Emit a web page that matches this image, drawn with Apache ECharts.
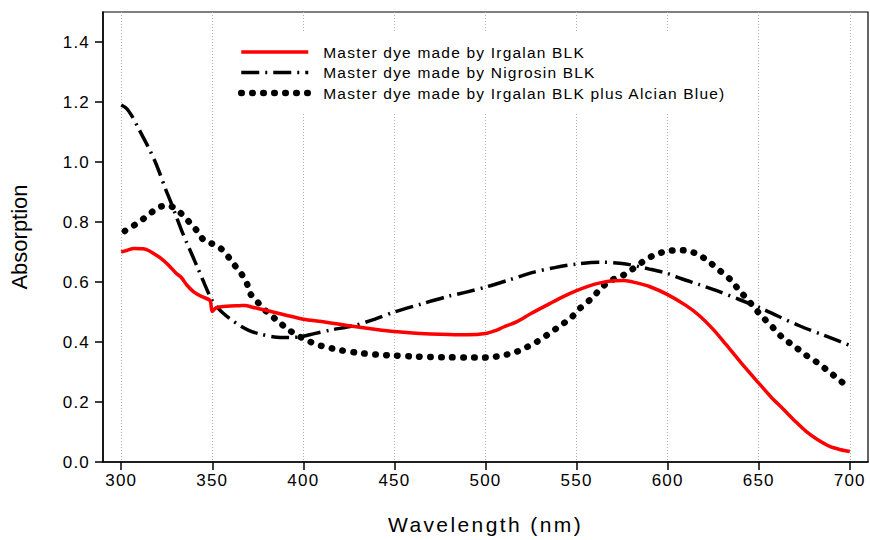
<!DOCTYPE html>
<html><head><meta charset="utf-8">
<script src="https://cdn.jsdelivr.net/npm/echarts@6/dist/echarts.min.js"></script>
<style>
html,body{margin:0;padding:0;background:#fff;}
#c{width:870px;height:540px;}
#c svg text{letter-spacing:1.2px;}
#c svg text[style*="21px"]{letter-spacing:2.4px;}
#c svg text[style*="22px"]{letter-spacing:0px;}
</style>
</head><body>
<div id="c"></div>
<script>
// ---- data ----
const seriesNames = [
  'Master dye made by Irgalan BLK',
  'Master dye made by Nigrosin BLK',
  'Master dye made by Irgalan BLK plus Alcian Blue)'
];
const irgalanWl = [300,303,307,312,315,318,322,326,330,333,336,340,344,348,349,350,352,356,360,365,368,372,380,390,400,410,420,430,440,450,460,470,480,490,500,505,510,517,525,535,543,550,557,563,570,576,583,590,600,610,617,625,632,640,650,657,663,670,676,682,689,695,700];
const irgalanAbs = [0.700,0.705,0.712,0.711,0.705,0.694,0.678,0.656,0.630,0.615,0.590,0.566,0.552,0.542,0.535,0.502,0.514,0.518,0.520,0.521,0.522,0.516,0.505,0.490,0.476,0.468,0.459,0.450,0.442,0.435,0.430,0.427,0.425,0.424,0.428,0.437,0.450,0.467,0.495,0.527,0.552,0.571,0.587,0.597,0.604,0.605,0.597,0.585,0.558,0.522,0.490,0.442,0.392,0.333,0.263,0.215,0.179,0.136,0.102,0.076,0.052,0.041,0.035];

const nigrosinWl = [300,303,306,309,312,315,318,321,324,327,330,333,336,339,342,345,348,350,353,356,360,365,370,376,384,392,398,406,415,428,440,450,465,480,490,500,513,526,538,550,563,577,590,600,608,617,627,640,650,661,672,686,700];
const nigrosinAbs = [1.190,1.178,1.152,1.118,1.083,1.048,1.010,0.965,0.915,0.870,0.822,0.774,0.731,0.689,0.647,0.604,0.562,0.538,0.514,0.496,0.476,0.455,0.439,0.427,0.417,0.415,0.417,0.428,0.440,0.455,0.478,0.500,0.527,0.553,0.567,0.583,0.607,0.632,0.648,0.660,0.666,0.660,0.643,0.628,0.610,0.592,0.571,0.540,0.516,0.485,0.455,0.422,0.389];

const alcianWl = [302,306,310,314,318,322,326,330,334,338,342,345,349,354,358,362,366,369,371,375,380,386,392,398,404,410,420,430,440,450,460,470,480,490,497,503,510,516,522,528,534,540,547,552,558,563,568,574,580,586,592,599,605,611,617,623,629,635,639,644,648,653,658,663,670,676,682,688,694,700];
const alcianAbs = [0.770,0.785,0.800,0.820,0.838,0.852,0.855,0.843,0.822,0.795,0.768,0.742,0.730,0.715,0.690,0.658,0.627,0.595,0.560,0.532,0.500,0.470,0.440,0.418,0.400,0.387,0.373,0.364,0.358,0.355,0.352,0.350,0.349,0.348,0.348,0.349,0.356,0.365,0.381,0.400,0.424,0.450,0.481,0.513,0.544,0.576,0.603,0.617,0.640,0.666,0.688,0.702,0.706,0.704,0.691,0.666,0.636,0.605,0.574,0.541,0.511,0.478,0.447,0.415,0.384,0.356,0.332,0.304,0.275,0.245];

const xTicks = [300,350,400,450,500,550,600,650,700];
const yTicks = [0,0.2,0.4,0.6,0.8,1.0,1.2,1.4];
const xTitle = 'Wavelength (nm)';
const yTitle = 'Absorption';

// ---- chart ----
const zip = (a, b) => a.map((v, i) => [v, b[i]]);
const chart = echarts.init(document.getElementById('c'), null, {renderer: 'svg'});
const font = 'Liberation Sans, Arial, Helvetica, sans-serif';

const styles = [
  {color: '#ff0000', width: 3.5, type: 'solid', cap: 'butt'},
  {color: '#000000', width: 3.5, type: [18, 6, 2, 6], cap: 'butt'},
  {color: '#000000', width: 6.5, type: [0.5, 10.5], cap: 'round'}
];
const datas = [zip(irgalanWl, irgalanAbs), zip(nigrosinWl, nigrosinAbs), zip(alcianWl, alcianAbs)];

chart.setOption({
  animation: false,
  backgroundColor: '#fff',
  grid: {left: 102, right: 2, top: 12, bottom: 76, show: true, borderColor: '#000', borderWidth: 1.2, backgroundColor: 'transparent'},
  legend: {
    left: 230, top: 31,
    orient: 'vertical',
    itemWidth: 67, itemHeight: 14, itemGap: 4.5,
    padding: [13, 70, 13, 8],
    backgroundColor: '#fff',
    textStyle: {fontFamily: font, fontSize: 15.5, color: '#000', padding: [0, 0, 0, 10]},
    data: seriesNames.map((n, i) => ({
      name: n,
      itemStyle: {opacity: 0, color: 'rgba(0,0,0,0)', borderWidth: 0},
      lineStyle: {width: styles[i].width, type: styles[i].type, cap: styles[i].cap, color: styles[i].color}
    }))
  },
  xAxis: {
    type: 'value', min: 290, max: 710,
    name: xTitle, nameLocation: 'middle', nameGap: 52,
    nameTextStyle: {fontFamily: font, fontSize: 21, color: '#000'},
    axisLine: {lineStyle: {color: '#000', width: 1.5}},
    axisTick: {show: true, length: 8, customValues: xTicks, lineStyle: {color: '#000', width: 1.5}},
    axisLabel: {customValues: xTicks, margin: 10, fontFamily: font, fontSize: 17, color: '#000'},
    splitLine: {show: true, lineStyle: {color: '#b0b0b0', width: 1, type: [1, 2]}}
  },
  yAxis: {
    type: 'value', min: 0, max: 1.5,
    name: yTitle, nameLocation: 'middle', nameGap: 73,
    nameTextStyle: {fontFamily: font, fontSize: 22, color: '#000'},
    axisLine: {show: true, lineStyle: {color: '#000', width: 1.5}},
    axisTick: {show: true, length: 8, customValues: yTicks, lineStyle: {color: '#000', width: 1.5}},
    axisLabel: {customValues: yTicks, margin: 13, fontFamily: font, fontSize: 17, color: '#000', formatter: v => v.toFixed(1)},
    splitLine: {show: false}
  },
  series: seriesNames.map((n, i) => ({
    name: n, type: 'line', data: datas[i], symbol: 'none', smooth: 0.3,
    lineStyle: {color: styles[i].color, width: styles[i].width, type: styles[i].type, cap: styles[i].cap, join: 'round'},
    itemStyle: {color: styles[i].color},
    z: 3 - i
  }))
});
</script>
</body></html>
